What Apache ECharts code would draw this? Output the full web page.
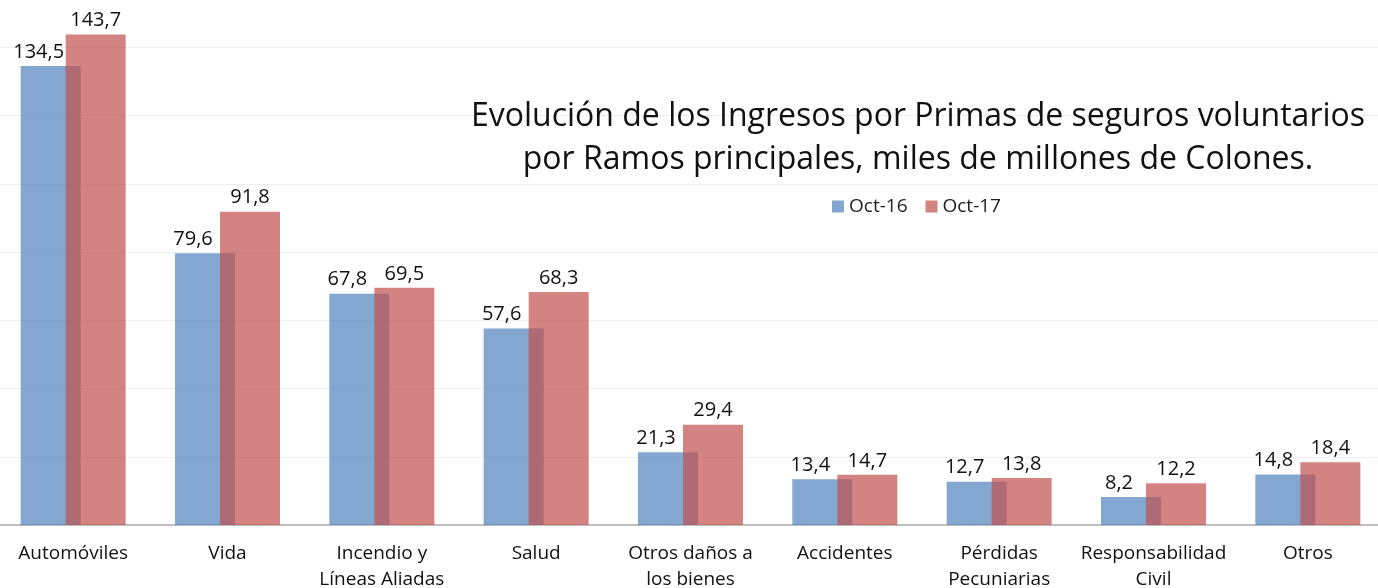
<!DOCTYPE html>
<html>
<head>
<meta charset="utf-8">
<script src="https://cdn.jsdelivr.net/npm/echarts@6/dist/echarts.min.js"></script>
<style>
html,body{margin:0;padding:0;background:#fff;overflow:hidden;width:1378px;height:588px;position:relative;}
/* el grafico original esta recortado: el contenedor sobresale un poco */
#chart{position:absolute;left:-4px;top:-21px;width:1389px;height:609px;}
</style>
</head>
<body>
<div id="chart"></div>
<script>
// categorias y valores (miles de millones de colones)
var ramos = ['Automóviles', 'Vida', 'Incendio y\nLíneas Aliadas', 'Salud', 'Otros daños a\nlos bienes',
    'Accidentes', 'Pérdidas\nPecuniarias', 'Responsabilidad\nCivil', 'Otros'];
var oct16 = [134.5, 79.6, 67.8, 57.6, 21.3, 13.4, 12.7, 8.2, 14.8];
var oct17 = [143.7, 91.8, 69.5, 68.3, 29.4, 14.7, 13.8, 12.2, 18.4];
var seriesNames = ['Oct-16', 'Oct-17'];

var font = 'Open Sans';
var chart = echarts.init(document.getElementById('chart'));

function fmt(p){
    return p.value.toFixed(1).replace('.', ',');
}

chart.setOption({
    animation: false,
    title: {
        text: 'Evolución de los Ingresos por Primas de seguros voluntarios\npor Ramos principales, miles de millones de Colones.',
        left: 917,
        top: 111,
        textAlign: 'center',
        textStyle: {
            fontFamily: font,
            fontSize: 32,
            fontWeight: 'normal',
            color: '#111',
            lineHeight: 43
        }
    },
    legend: {
        data: seriesNames,
        left: 831,
        top: 213,
        itemWidth: 12,
        itemHeight: 12,
        itemGap: 18,
        icon: 'rect',
        textStyle: {fontFamily: font, fontSize: 19, color: '#222'}
    },
    grid: {
        left: 0,
        right: 0,
        top: 0,
        bottom: 63,
        outerBoundsMode: 'none'
    },
    xAxis: {
        type: 'category',
        data: ramos,
        axisTick: {show: false},
        axisLine: {lineStyle: {color: '#bfbfbf', width: 2}},
        axisLabel: {
            interval: 0,
            fontFamily: font,
            fontSize: 19,
            color: '#111',
            lineHeight: 26,
            margin: 16
        }
    },
    yAxis: {
        type: 'value',
        min: 0,
        max: 160,
        interval: 20,
        axisLabel: {show: false},
        axisLine: {show: false},
        axisTick: {show: false},
        splitLine: {lineStyle: {color: '#eeeeee', width: 1}}
    },
    series: [
        {
            name: seriesNames[0],
            type: 'bar',
            data: oct16,
            barWidth: 60,
            barGap: '-25%',
            itemStyle: {color: 'rgba(79,129,189,0.7)'},
            label: {
                show: true,
                position: 'top',
                offset: [-12, 0],
                distance: 4,
                formatter: fmt,
                fontFamily: font,
                fontSize: 20,
                color: '#111'
            }
        },
        {
            name: seriesNames[1],
            type: 'bar',
            data: oct17,
            barWidth: 60,
            barGap: '-25%',
            itemStyle: {color: 'rgba(192,80,77,0.7)'},
            label: {
                show: true,
                position: 'top',
                distance: 4,
                formatter: fmt,
                fontFamily: font,
                fontSize: 20,
                color: '#111'
            }
        }
    ]
});
</script>
</body>
</html>
